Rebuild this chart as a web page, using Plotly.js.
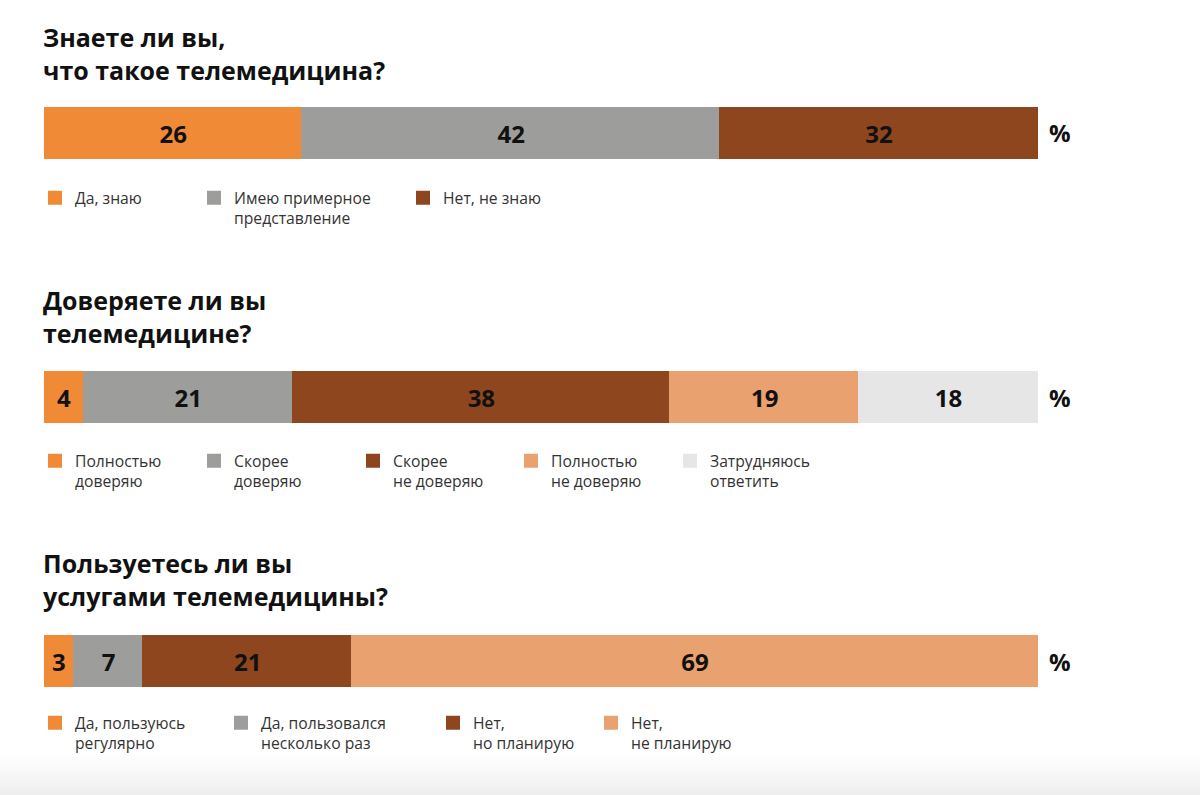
<!DOCTYPE html>
<html>
<head>
<meta charset="utf-8">
<script src="https://cdn.plot.ly/plotly-3.0.1.min.js"></script>
<style>
  html, body { margin: 0; padding: 0; }
  body { width: 1200px; height: 795px; background: linear-gradient(to bottom, #ffffff 0px, #ffffff 755px, #eeeeee 795px); }
  #chart { width: 1200px; height: 795px; }
</style>
</head>
<body>
<div id="chart"></div>
<script>
// ---- data ----
const q1Title = 'Знаете ли вы,<br>что такое телемедицина?';
const q1Labels = ['Да, знаю', 'Имею примерное<br>представление', 'Нет, не знаю'];
const q1Values = [26, 42, 32];

const q2Title = 'Доверяете ли вы<br>телемедицине?';
const q2Labels = ['Полностью<br>доверяю', 'Скорее<br>доверяю', 'Скорее<br>не доверяю', 'Полностью<br>не доверяю', 'Затрудняюсь<br>ответить'];
const q2Values = [4, 21, 38, 19, 18];

const q3Title = 'Пользуетесь ли вы<br>услугами телемедицины?';
const q3Labels = ['Да, пользуюсь<br>регулярно', 'Да, пользовался<br>несколько раз', 'Нет,<br>но планирую', 'Нет,<br>не планирую'];
const q3Values = [3, 7, 21, 69];

const unitLabel = '%';

// ---- style ----
const W = 1200, H = 795;
const plotLeft = 44, plotRight = 1038;
const plotW = plotRight - plotLeft;
const palette = ['#F08A36', '#9D9D9C', '#8E461E', '#E9A16F', '#E6E6E6'];
const FONT = '"Open Sans", "DejaVu Sans", sans-serif';

const questions = [
  { title: q1Title, labels: q1Labels, values: q1Values, barTop: 106, barBot: 160, titleY: 54,  legendY: 181, legendX: [44, 203, 412] },
  { title: q2Title, labels: q2Labels, values: q2Values, barTop: 370, barBot: 424, titleY: 316, legendY: 444, legendX: [44, 203, 362, 520, 679] },
  { title: q3Title, labels: q3Labels, values: q3Values, barTop: 634, barBot: 688, titleY: 579, legendY: 706, legendX: [44, 230, 442, 600] }
];

const py = p => 1 - p / H;              // pixel y -> paper y
const px = p => (p - plotLeft) / plotW; // pixel x -> paper x

const traces = [];
const layout = {
  width: W, height: H,
  margin: { l: plotLeft, r: W - plotRight, t: 0, b: 0, pad: 0 },
  paper_bgcolor: 'rgba(0,0,0,0)',
  plot_bgcolor: 'rgba(0,0,0,0)',
  barmode: 'stack',
  bargap: 0,
  showlegend: true,
  font: { family: FONT, color: '#333333', size: 15 },
  annotations: []
};

let legendIdx = 0;
questions.forEach((q, qi) => {
  const sfx = qi === 0 ? '' : String(qi + 1);
  const xName = 'x' + sfx, yName = 'y' + sfx;
  layout['xaxis' + sfx] = { domain: [0, 1], range: [0, 100], anchor: yName, visible: false, fixedrange: true };
  layout['yaxis' + sfx] = { domain: [py(q.barBot - 1), py(q.barTop + 1)], range: [-0.5, 0.5], anchor: xName, visible: false, fixedrange: true };

  q.values.forEach((v, i) => {
    legendIdx++;
    const lname = legendIdx === 1 ? 'legend' : 'legend' + legendIdx;
    traces.push({
      type: 'bar', orientation: 'h',
      x: [v], y: ['q' + (qi + 1)],
      xaxis: xName, yaxis: yName,
      name: q.labels[i],
      legend: lname,
      marker: { color: palette[i], line: { color: palette[i], width: 2 } },
      texttemplate: '%{x}',
      textposition: 'inside',
      insidetextanchor: 'middle',
      constraintext: 'none',
      textfont: { family: FONT, size: 24, color: '#111111', weight: 700 },
      hoverinfo: 'skip'
    });
    layout[lname] = {
      orientation: 'h',
      x: px(q.legendX[i] - 9), xanchor: 'left',
      y: py(q.legendY), yanchor: 'top',
      valign: 'top',
      bgcolor: 'rgba(0,0,0,0)',
      borderwidth: 0,
      font: { family: FONT, size: 15.7, color: '#333333' },
      tracegroupgap: 0
    };
  });

  // question title
  layout.annotations.push({
    xref: 'paper', yref: 'paper', x: px(41), y: py(q.titleY),
    xanchor: 'left', yanchor: 'middle', align: 'left', showarrow: false,
    text: '<b>' + q.title + '</b>',
    font: { family: FONT, size: 25, color: '#111111' }
  });
  // percent sign
  layout.annotations.push({
    xref: xName + ' domain', yref: yName + ' domain', x: 1.009, y: 0.5,
    xanchor: 'left', yanchor: 'middle', showarrow: false,
    text: '<b>' + unitLabel + '</b>',
    font: { family: FONT, size: 24, color: '#111111' }
  });
});

Plotly.newPlot('chart', traces, layout, { staticPlot: true, displayModeBar: false });
</script>
</body>
</html>
